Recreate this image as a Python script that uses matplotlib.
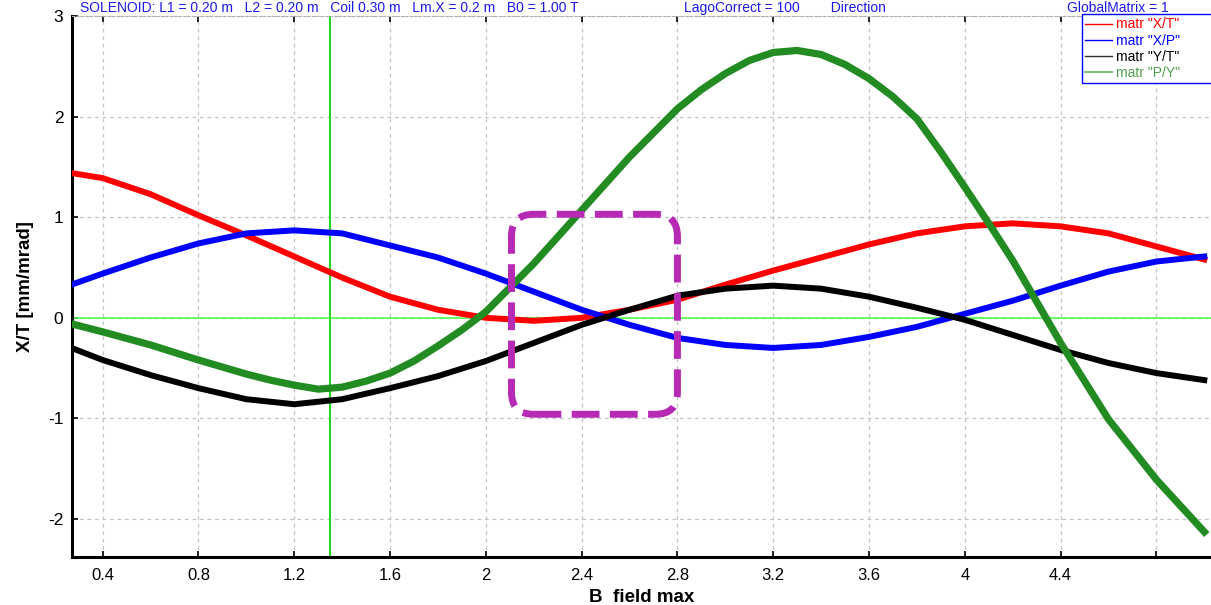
import matplotlib
matplotlib.use('Agg')
from matplotlib import pyplot as plt
from matplotlib.lines import Line2D
from matplotlib.patches import FancyBboxPatch

# values
b_field = [0.27, 0.4, 0.6, 0.8, 1.0, 1.2, 1.4, 1.6, 1.8, 2.0, 2.2, 2.4, 2.6,
           2.8, 3.0, 3.2, 3.4, 3.6, 3.8, 4.0, 4.2, 4.4, 4.6, 4.8, 5.0]
x_t = [1.44, 1.39, 1.23, 1.02, 0.82, 0.61, 0.40, 0.21, 0.08, 0.0, -0.03, 0.0, 0.08,
       0.18, 0.33, 0.47, 0.60, 0.73, 0.84, 0.91, 0.94, 0.91, 0.84, 0.71, 0.58]
x_p = [0.33, 0.44, 0.60, 0.74, 0.84, 0.87, 0.84, 0.72, 0.60, 0.44, 0.26, 0.08, -0.07,
       -0.20, -0.27, -0.30, -0.27, -0.19, -0.09, 0.04, 0.17, 0.32, 0.46, 0.56, 0.61]
y_t = [-0.30, -0.42, -0.57, -0.70, -0.81, -0.86, -0.81, -0.70, -0.58, -0.43, -0.25, -0.07, 0.08,
       0.22, 0.29, 0.32, 0.29, 0.21, 0.10, -0.02, -0.17, -0.32, -0.45, -0.55, -0.62]
# P/Y is steeper, read at a finer step
b_field_py = [0.27, 0.4, 0.6, 0.8, 1.0, 1.1, 1.2, 1.3, 1.4, 1.5, 1.6, 1.7, 1.8, 1.9, 2.0,
              2.2, 2.4, 2.6, 2.8, 2.9, 3.0, 3.1, 3.2, 3.3, 3.4, 3.5, 3.6, 3.7, 3.8, 3.9,
              4.0, 4.1, 4.2, 4.4, 4.6, 4.8, 5.0]
p_y = [-0.06, -0.14, -0.27, -0.42, -0.56, -0.62, -0.67, -0.71, -0.69, -0.63, -0.55, -0.43,
       -0.28, -0.12, 0.06, 0.54, 1.07, 1.60, 2.08, 2.27, 2.43, 2.56, 2.64, 2.66, 2.62, 2.52,
       2.38, 2.20, 1.98, 1.65, 1.30, 0.94, 0.57, -0.25, -1.01, -1.61, -2.13]
labels = ['matr "X/T"', 'matr "X/P"', 'matr "Y/T"', 'matr "P/Y"']

x_ticks = [0.4, 0.8, 1.2, 1.6, 2.0, 2.4, 2.8, 3.2, 3.6, 4.0, 4.4, 4.8]
x_ticklabels = ['0.4', '0.8', '1.2', '1.6', '2', '2.4', '2.8', '3.2', '3.6', '4', '4.4', '']
y_ticks = [-2, -1, 0, 1, 2, 3]
marker_x = 1.35

narrow = ['Liberation Sans Narrow', 'Liberation Sans', 'DejaVu Sans']
plt.rcParams['font.family'] = ['Liberation Sans', 'DejaVu Sans']

fig = plt.figure(figsize=(12.11, 6.05), dpi=100)
ax = fig.add_axes([71.7/1211, 48/605, (1211-71.7)/1211, (557-16.3)/605])
ax.set_xlim(0.2706, 5.028)
ax.set_ylim(-2.38, 3.0)

# grid
ax.set_xticks(x_ticks)
ax.set_xticklabels(x_ticklabels, family=narrow, fontsize=12)
ax.set_yticks(y_ticks)
ax.set_yticklabels([str(v) for v in y_ticks], fontsize=12.5)
ax.grid(True, color='#c4c4c4', linestyle=(0, (3, 3)), linewidth=0.9)
ax.tick_params(axis='both', direction='in', length=4, width=1.2, top=True, pad=8)
ax.tick_params(axis='y', pad=6)

# reference lines
ax.axhline(0, color='#4dff4d', linewidth=1.2, zorder=2)
ax.axvline(marker_x, color='#22d822', linewidth=1.5, zorder=2)

ax.plot(b_field, x_t, color='#ff0000', lw=4.3, solid_joinstyle='round', zorder=3)
ax.plot(b_field, x_p, color='#0000ff', lw=4.3, solid_joinstyle='round', zorder=3)
ax.plot(b_field, y_t, color='#000000', lw=4.3, solid_joinstyle='round', zorder=3)
ax.plot(b_field_py, p_y, color='#228b22', lw=5.2, solid_joinstyle='round', zorder=3)

# dashed highlight box
box = FancyBboxPatch((2.107, -0.96), 2.80 - 2.107, 1.03 + 0.96,
                     boxstyle='round,pad=0,rounding_size=0.092',
                     mutation_aspect=239.5/100.5,
                     facecolor='none', edgecolor='#b62ab6', linewidth=5,
                     linestyle=(0, (4, 1.5)), zorder=4)
ax.add_patch(box)

for side in ['left', 'bottom']:
    ax.spines[side].set_linewidth(2.2)
ax.spines['right'].set_visible(False)
ax.spines['top'].set_color('#b0b0b0')
ax.spines['top'].set_linestyle((0, (2, 2)))

ax.set_xlabel('B  field max', fontsize=13.5, fontweight='bold', labelpad=4)
ax.set_ylabel('X/T [mm/mrad]', fontsize=13.5, fontweight='bold', labelpad=10)

# legend, its right side runs past the picture edge
handles = [Line2D([], [], color='#ff0000', lw=1),
           Line2D([], [], color='#0000ff', lw=1),
           Line2D([], [], color='#303030', lw=1),
           Line2D([], [], color='#7fbf7f', lw=1.5)]
leg = fig.legend(handles, labels, loc='upper left', mode='expand',
                 bbox_to_anchor=(1082/1211, 0, 140/1211, 1 - 14/605),
                 bbox_transform=fig.transFigure, borderaxespad=0, fancybox=False,
                 framealpha=1, edgecolor='#0000ff', prop={'family': narrow, 'size': 10},
                 handlelength=1.9, handletextpad=0.3, labelspacing=0.15, borderpad=0.25)
leg.get_frame().set_linewidth(1.0)
for txt, c in zip(leg.get_texts(), ['#ff0000', '#0000ff', '#000000', '#4f9f4f']):
    txt.set_color(c)

# title strip above the axes
title_kw = dict(color='#1a1ae6', fontsize=10, va='baseline', ha='left', family=narrow)
fig.text(80/1211, 1 - 12/605,
         'SOLENOID: L1 = 0.20 m   L2 = 0.20 m   Coil 0.30 m   Lm.X = 0.2 m   B0 = 1.00 T', **title_kw)
fig.text(684/1211, 1 - 12/605, 'LagoCorrect = 100        Direction', **title_kw)
fig.text(1067/1211, 1 - 12/605, 'GlobalMatrix = 1', **title_kw)

fig.savefig('out.png', dpi=100)
